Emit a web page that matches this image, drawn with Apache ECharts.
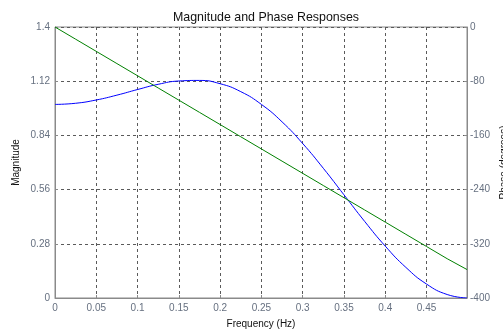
<!DOCTYPE html>
<html>
<head>
<meta charset="utf-8">
<script src="https://cdn.jsdelivr.net/npm/echarts@6/dist/echarts.min.js"></script>
<style>
  html, body { margin: 0; padding: 0; background: #fff; }
  #chart { width: 503px; height: 330px; }
</style>
</head>
<body>
<div id="chart"></div>
<script>
// frequency points (Hz)
const freq = [0, 0.025, 0.05, 0.075, 0.1, 0.125, 0.15, 0.175, 0.2, 0.225, 0.25,
  0.275, 0.3, 0.325, 0.35, 0.375, 0.4, 0.425, 0.45, 0.475, 0.499];
const magnitude = [1.0, 1.006, 1.023, 1.048, 1.077, 1.104, 1.121, 1.124, 1.107, 1.066, 1.0,
  0.91, 0.798, 0.67, 0.533, 0.396, 0.268, 0.158, 0.072, 0.018, 0.0];
const phaseDeg = [0, -18, -36, -54, -72, -90, -108, -126, -144, -162, -180,
  -198, -216, -234, -252, -270, -288, -306, -324, -342, -358];

const magTicks = { min: 0, max: 1.4, interval: 0.28 };
const phaseTicks = { min: -400, max: 0, interval: 80 };
const freqTicks = { min: 0, max: 0.499, interval: 0.05 };

const labelColor = "#667080";
const axisColor = "#8a8a8a";
const gridColor = "#5a5a5a";
const font = "Liberation Sans, Arial, sans-serif";

const chart = echarts.init(document.getElementById("chart"), null, { renderer: "canvas" });

chart.setOption({
  backgroundColor: "#fff",
  animation: false,
  title: {
    text: "Magnitude and Phase Responses",
    left: 261,
    textAlign: "center",
    top: 7,
    textStyle: { fontSize: 12.4, fontWeight: "normal", color: "#111", fontFamily: font },
  },
  grid: {
    left: 55, right: 36, top: 27, bottom: 32,
    outerBoundsMode: "none",
    containLabel: false,
    show: true, borderColor: axisColor, borderWidth: 1, backgroundColor: "#fff",
  },
  xAxis: {
    type: "value",
    min: freqTicks.min, max: freqTicks.max, interval: freqTicks.interval,
    name: "Frequency (Hz)",
    nameLocation: "middle",
    nameGap: 21,
    nameMoveOverlap: false,
    nameTextStyle: { fontSize: 10, color: "#111", fontFamily: font },
    axisLine: { show: true, lineStyle: { color: axisColor } },
    axisTick: { show: true, inside: true, length: 3, lineStyle: { color: axisColor } },
    axisLabel: {
      color: labelColor, fontSize: 10, fontFamily: font, margin: 5,
      formatter(v) {
        const k = Math.round(v / 0.05);
        if (Math.abs(v - k * 0.05) > 1e-6) return "";
        return String(Math.round(v * 100) / 100);
      },
    },
    splitLine: { show: true, lineStyle: { color: gridColor, type: [3, 3], width: 1 } },
  },
  yAxis: [
    {
      type: "value",
      position: "left",
      min: magTicks.min, max: magTicks.max, interval: magTicks.interval,
      name: "Magnitude",
      nameLocation: "middle",
      nameGap: 34,
      nameRotate: 90,
      nameMoveOverlap: false,
      nameTextStyle: { fontSize: 10, color: "#111", fontFamily: font },
      axisLine: { show: true, lineStyle: { color: axisColor } },
      axisTick: { show: true, inside: true, length: 3, lineStyle: { color: axisColor } },
      axisLabel: {
        color: labelColor, fontSize: 10, fontFamily: font, margin: 5,
        formatter(v) { return String(Math.round(v * 100) / 100); },
      },
      splitLine: { show: true, lineStyle: { color: gridColor, type: [3, 3], width: 1 } },
    },
    {
      type: "value",
      position: "right",
      min: phaseTicks.min, max: phaseTicks.max, interval: phaseTicks.interval,
      name: "Phase (degrees)",
      nameLocation: "middle",
      nameGap: 32,
      nameRotate: 90,
      nameMoveOverlap: false,
      nameTextStyle: { fontSize: 10, color: "#111", fontFamily: font },
      axisLine: { show: true, lineStyle: { color: axisColor } },
      axisTick: { show: true, inside: true, length: 3, lineStyle: { color: axisColor } },
      axisLabel: { color: labelColor, fontSize: 10, fontFamily: font, margin: 3 },
      splitLine: { show: false },
    },
  ],
  series: [
    {
      type: "line",
      name: "Magnitude",
      yAxisIndex: 0,
      data: freq.map((f, i) => [f, magnitude[i]]),
      smooth: 0.5,
      smoothConstraint: false,
      showSymbol: false,
      lineStyle: { color: "#0000ff", width: 1 },
      itemStyle: { color: "#0000ff" },
    },
    {
      type: "line",
      name: "Phase",
      yAxisIndex: 1,
      data: freq.map((f, i) => [f, phaseDeg[i]]),
      showSymbol: false,
      lineStyle: { color: "#008000", width: 1 },
      itemStyle: { color: "#008000" },
    },
  ],
});
</script>
</body>
</html>
